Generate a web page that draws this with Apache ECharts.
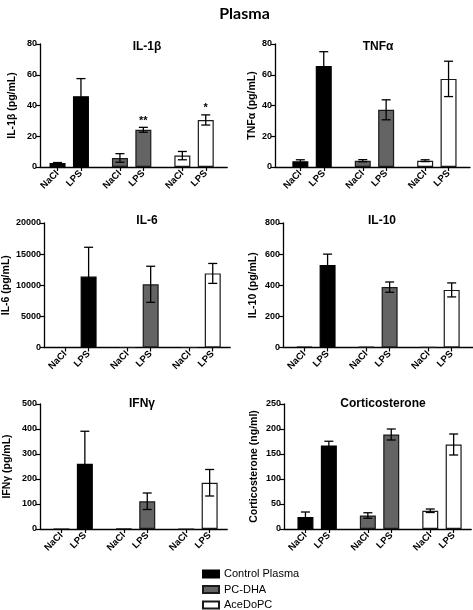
<!DOCTYPE html>
<html>
<head>
<meta charset="utf-8">
<script src="https://cdn.jsdelivr.net/npm/echarts@6/dist/echarts.min.js"></script>
<style>html,body{margin:0;padding:0;background:#fff}#c{width:473px;height:610px}</style>
</head>
<body>
<div id="c"></div>
<script>
// ---------- DATA ----------
const mainTitle = 'Plasma';
const groups = ['Control Plasma', 'PC-DHA', 'AceDoPC'];
const treatments = ['NaCl', 'LPS'];
const panelTitles = ['IL-1β', 'TNFα', 'IL-6', 'IL-10', 'IFNγ', 'Corticosterone'];
const yNames = ['IL-1β (pg/mL)', 'TNFα (pg/mL)', 'IL-6 (pg/mL)', 'IL-10 (pg/mL)', 'IFNγ (pg/mL)', 'Corticosterone (ng/ml)'];
const yMax = [80, 80, 20000, 800, 500, 250];
const yStep = [20, 20, 5000, 200, 100, 50];
// order: Control NaCl, Control LPS, PC-DHA NaCl, PC-DHA LPS, AceDoPC NaCl, AceDoPC LPS
const il1bMean = [2.6, 46, 5.9, 24.2, 7.4, 30.6];
const il1bSem  = [0.3, 11.5, 2.8, 1.6, 2.7, 3.3];
const il1bSig  = ['', '', '', '**', '', '*'];
const tnfMean  = [3.7, 65.7, 4.1, 37.2, 4.1, 57.3];
const tnfSem   = [1.0, 9.3, 0.7, 6.5, 0.6, 11.5];
const il6Mean  = [0, 11400, 0, 10150, 0, 11900];
const il6Sem   = [0, 4700, 0, 2900, 0, 1600];
const il10Mean = [5, 530, 4, 388, 2, 370];
const il10Sem  = [0, 70, 0, 33, 0, 45];
const ifnMean  = [0, 261, 2, 111, 0, 185];
const ifnSem   = [0, 130, 0, 33, 0, 53];
const corMean  = [24, 167, 27, 189, 36.5, 169];
const corSem   = [10, 8.5, 5.5, 11, 3.5, 21];
const noSig = ['', '', '', '', '', ''];

const panels = [
  {mean: il1bMean, sem: il1bSem, sig: il1bSig},
  {mean: tnfMean, sem: tnfSem, sig: noSig},
  {mean: il6Mean, sem: il6Sem, sig: noSig},
  {mean: il10Mean, sem: il10Sem, sig: noSig},
  {mean: ifnMean, sem: ifnSem, sig: noSig},
  {mean: corMean, sem: corSem, sig: noSig}
];

// ---------- LAYOUT / STYLE ----------
const FONT = '"Liberation Sans", Arial, sans-serif';
const u = 3.9;               // slot width (px)
const groupStride = 16;      // slots between groups
const pairOffset = 6;        // slots between NaCl and LPS
const layout = [
  {left: 40,  top: 44,  h: 123, padL: 4, padR: 5, nameGap: 22, tx: 142, ty: 36},
  {left: 275, top: 44,  h: 123, padL: 6, padR: 5, nameGap: 14, tx: 373, ty: 36},
  {left: 43,  top: 223, h: 124.5, padL: 5, padR: 4, nameGap: 32, tx: 142, ty: 210},
  {left: 283, top: 223, h: 124.5, padL: 5, padR: 5, nameGap: 24, tx: 377, ty: 210},
  {left: 40,  top: 404, h: 125, padL: 5, padR: 4, nameGap: 27, tx: 137, ty: 393},
  {left: 284, top: 404, h: 125, padL: 5, padR: 4, nameGap: 24, tx: 378, ty: 393}
];
const fills = ['#000000', '#646464', '#ffffff'];
const borders = ['#000000', '#1a1a1a', '#1a1a1a'];

const grids = [], xAxes = [], yAxes = [], series = [];
const titles = [{
  text: mainTitle, left: 239.5, top: 1, textAlign: 'center',
  textStyle: {fontFamily: 'Lato, ' + FONT, fontWeight: 'bold', fontSize: 16, color: '#000'}
}];

panels.forEach((p, pi) => {
  const L = layout[pi];
  const nSlots = L.padL + 2 * groupStride + pairOffset + 1 + L.padR;
  const cats = new Array(nSlots).fill('');
  const slotOf = (g, t) => L.padL + g * groupStride + t * pairOffset;
  groups.forEach((g, gi) => treatments.forEach((t, ti) => { cats[slotOf(gi, ti)] = t; }));

  grids.push({left: L.left, top: L.top, width: nSlots * u, height: L.h, containLabel: false});
  titles.push({
    text: panelTitles[pi], left: L.tx, top: L.ty, textAlign: 'center',
    textStyle: {fontFamily: FONT, fontWeight: 'bold', fontSize: 12, color: '#000'}
  });
  xAxes.push({
    type: 'category', gridIndex: pi, data: cats, boundaryGap: true,
    axisLine: {show: true, lineStyle: {color: '#000', width: 1.3}},
    axisTick: {show: true, alignWithLabel: true, length: 4, interval: (i, v) => v !== '',
               lineStyle: {color: '#000', width: 1.2}},
    axisLabel: {interval: (i, v) => v !== '', rotate: 45, margin: 5,
                fontFamily: FONT, fontWeight: 'bold', fontSize: 9.5, color: '#000'},
    splitLine: {show: false}
  });
  yAxes.push({
    type: 'value', gridIndex: pi, min: 0, max: yMax[pi], interval: yStep[pi],
    name: yNames[pi], nameLocation: 'middle', nameGap: L.nameGap,
    nameTextStyle: {fontFamily: FONT, fontWeight: 'bold', fontSize: 10.5, color: '#000'},
    axisLine: {show: true, lineStyle: {color: '#000', width: 1.3}},
    axisTick: {show: true, length: 4, lineStyle: {color: '#000', width: 1.2}},
    axisLabel: {margin: 3, formatter: v => String(v),
                fontFamily: FONT, fontWeight: 'bold', fontSize: 9, color: '#000'},
    splitLine: {show: false}
  });

  groups.forEach((g, gi) => {
    const data = new Array(nSlots).fill('-');
    treatments.forEach((t, ti) => { data[slotOf(gi, ti)] = p.mean[gi * 2 + ti]; });
    series.push({
      type: 'bar', name: g, xAxisIndex: pi, yAxisIndex: pi, data: data,
      barWidth: 16, barGap: '-100%',
      itemStyle: {color: fills[gi], borderColor: borders[gi], borderWidth: 1.2},
      emphasis: {disabled: true}, z: 2
    });
  });

  const errData = [];
  groups.forEach((g, gi) => treatments.forEach((t, ti) => {
    const k = gi * 2 + ti;
    errData.push([slotOf(gi, ti), p.mean[k], p.sem[k], p.sig[k]]);
  }));
  series.push({
    type: 'custom', xAxisIndex: pi, yAxisIndex: pi, data: errData, z: 5, silent: true,
    encode: {x: 0, y: 1},
    renderItem: (params, api) => {
      const idx = api.value(0), m = api.value(1), e = api.value(2);
      const sig = errData[params.dataIndex][3];
      const children = [];
      const cap = 4.5;
      const ls = {stroke: '#000', lineWidth: 1.3};
      const top = api.coord([idx, m + e]);
      if (e > 0) {
        const bot = api.coord([idx, Math.max(0, m - e)]);
        children.push({type: 'line', shape: {x1: top[0], y1: top[1], x2: bot[0], y2: bot[1]}, style: ls});
        children.push({type: 'line', shape: {x1: top[0] - cap, y1: top[1], x2: top[0] + cap, y2: top[1]}, style: ls});
        children.push({type: 'line', shape: {x1: bot[0] - cap, y1: bot[1], x2: bot[0] + cap, y2: bot[1]}, style: ls});
      }
      if (sig) {
        children.push({type: 'text', style: {text: sig, x: top[0], y: top[1] - 1, align: 'center',
          verticalAlign: 'bottom', font: 'bold 11px ' + FONT, fill: '#000'}});
      }
      return {type: 'group', children: children};
    }
  });
});

const chart = echarts.init(document.getElementById('c'), null, {renderer: 'canvas'});
chart.setOption({
  animation: false,
  backgroundColor: '#fff',
  title: titles,
  grid: grids,
  xAxis: xAxes,
  yAxis: yAxes,
  legend: {
    data: groups, orient: 'vertical', left: 202, top: 568, width: 150, height: 60, padding: 0,
    itemWidth: 16, itemHeight: 7, itemGap: 3.5, icon: 'rect', selectedMode: false,
    textStyle: {fontFamily: FONT, fontSize: 11, color: '#000', lineHeight: 12}
  },
  series: series
});
</script>
</body>
</html>
